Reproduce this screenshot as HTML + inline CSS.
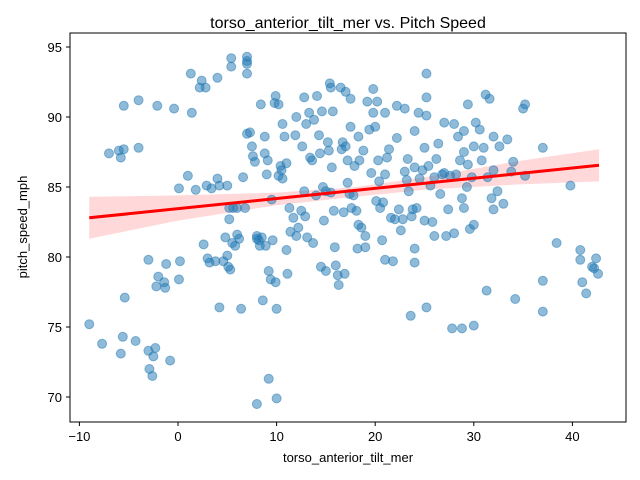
<!DOCTYPE html>
<html><head><meta charset="utf-8"><style>
body{margin:0;background:#fff;}
svg{display:block;font-family:"Liberation Sans","DejaVu Sans",sans-serif;}
</style></head><body>
<svg id="chart" width="640" height="480">
<rect width="640" height="480" fill="#fff"/>
<text x="348" y="28" text-anchor="middle" font-size="16">torso_anterior_tilt_mer vs. Pitch Speed</text>
<g id="ci"></g>
<g id="pts"></g>
<g id="reg"></g>
<rect x="70" y="33" width="556" height="389" fill="none" stroke="#000" stroke-width="1"/>
<g id="xt"></g>
<g id="yt"></g>
<text x="348" y="462" text-anchor="middle" font-size="13">torso_anterior_tilt_mer</text>
<text transform="translate(27,227) rotate(-90)" text-anchor="middle" font-size="13">pitch_speed_mph</text>
</svg>
<script>
const xTicks=[-10,0,10,20,30,40];
const yTicks=[70,75,80,85,90,95];
const regX=[-9,42.7];
const regY=[82.8,86.55];
const ciX=[-9,0,10,18,25,35,42.7];
const ciLow=[81.3,82.6,83.7,84.3,84.8,85.2,85.4];
const ciHigh=[84.3,84.4,84.6,85.0,85.7,86.9,87.7];
const px=[-9,-7.7,-7,-6,-5.8,-5.5,-5.5,-5.4,-5.6,-5.8,-4.3,-4,-4,-3,-3,-2.9,-2.6,-2.5,-2.3,-2.1,-2,-2.2,-1.4,-1.3,-1.2,-0.8,-0.4,0.1,0.1,0.2,1,1.3,1.4,1.8,2.2,2.4,2.6,2.8,2.9,3,3.2,3.4,3.8,4,4,4.2,4.2,4.6,4.8,5,5,5.1,5.2,5.2,5.4,5.4,5.6,5.3,5.5,5.8,6,6,6.2,6.4,6.6,6.8,7,7,7,7,7,7.3,7.5,7.6,7.8,8,8,8.2,8.3,8.4,8.5,8.6,8,8.8,8.8,8.9,9,9.1,9.2,9.2,9.4,9.5,9.6,9.8,9.9,9.9,10,10,10.2,10.2,10.4,10.5,10.6,10.6,10.8,11,11,11.1,11.3,11.4,11.7,11.9,12,12,12.2,12.5,12.6,12.8,12.8,12.9,13,13.1,13.3,13.4,13.6,13.7,13.8,14,14.1,14.3,14.4,14.5,14.6,14.7,14.8,15,15,15.2,15.3,15.4,15.5,15.5,15.6,15.7,15.8,15.9,16,16.2,16.3,16.5,16.6,16.7,16.8,16.9,17,17,17.2,17.2,17.4,17.5,17.5,17.6,17.8,17.9,18.1,18.2,18.3,18.3,18.4,18.6,18.8,19,19,19.2,19.4,19.6,19.8,19.8,20,20.1,20.2,20.3,20.4,20.5,20.7,20.8,21,21,21,21.2,21.4,21.6,21.8,22,22.2,22.2,22.4,22.6,22.8,23,23,23.2,23.3,23.4,23.6,23.7,23.8,24,24,24,24,24.2,24.4,24.5,24.8,25,25,25.2,25.2,25.2,25.2,25.4,25.6,25.8,26,26,26.2,26.4,26.6,26.8,27,27,27.2,27.4,27.6,27.8,28,28,28.2,28.4,28.6,28.8,28.8,29,29,29,29.3,29.4,29.4,29.6,29.8,30,30,30,30.2,30.6,30.8,31,31.2,31.3,31.4,31.6,31.8,32,32,32,32.4,32.6,33,33.4,33.8,34,34.2,35,35.2,35.2,37,37,37,38.4,39.8,40.8,40.8,41,41.4,42,42.4,42.6,42.2];
const py=[75.2,73.8,87.4,87.6,87.1,90.8,87.7,77.1,74.3,73.1,74,91.2,87.8,79.8,73.3,72,71.5,72.9,73.5,90.8,78.6,77.9,78.2,77.8,79.5,72.6,90.6,84.9,78.4,79.7,85.8,93.1,90.3,84.8,92.1,92.6,80.9,92.1,85.1,79.9,79.6,84.9,79.7,85.6,92.8,85.1,76.4,79.7,81.4,80.1,85.1,79.3,83.5,82.7,94.2,93.6,83.5,79.1,81,80.8,83.5,81.6,81.3,76.3,85.7,83.5,93.8,94.3,94,93.1,88.8,88.9,87.9,87.2,86.8,81.5,81.3,81.2,80.8,90.9,81.4,76.9,69.5,87.4,88.6,80.8,85.9,86.9,71.3,79,78.4,84.1,81.2,91,91.5,78.2,69.9,76.3,90.9,85.8,86.5,86.2,85.6,89.5,88.6,86.7,80.5,78.8,83.5,81.8,82.8,88.7,81.5,90,82.1,83.3,87.9,84.7,91.4,82.9,89.5,81.4,90.3,87.1,86.9,81,89.8,84.4,91.5,88.7,87.4,79.3,90.4,85,82.6,84.7,79,88.2,87.6,92.4,92.1,84.6,86.4,90.4,83.3,80.7,79.4,78.7,78,92.1,87.7,88.2,83.2,78.8,91.8,87.9,86.9,85.3,84.5,91.3,89.3,83.5,84.4,86.5,83.3,80.6,82.3,88.6,86.9,82.1,87.6,81.5,80.7,91.1,89.1,86,92,90.3,89.3,84,91.1,86.9,85.4,83.5,81.2,83.9,79.8,90.3,85.9,87.1,87.7,82.8,79.7,82.7,90.8,88.5,83.4,81.9,82.7,86.1,90.6,85.5,87,84.7,75.8,82.9,83.4,89,86.4,80.6,79.6,83.5,90.3,85.6,86.2,87.8,82.6,91.4,93.1,90.1,76.4,86.5,85.1,82.5,85.7,81.5,87,88.1,84.5,85.9,89.6,86,81.5,83.4,85.8,74.9,89.5,81.7,85.9,88.6,86.9,74.9,84.2,87.5,89,83.5,85,86.6,90.9,82,85.7,82.3,75.1,87.9,89.6,89.1,86.9,87.8,91.6,77.6,85.7,91.3,84.2,86.2,88.6,83.4,84.7,87.9,83.8,88.4,86.1,86.8,77,90.6,90.9,85.8,87.8,78.3,76.1,81,85.1,80.5,79.8,78.2,77.4,79.3,79.9,78.8,79.2];
const NS="http://www.w3.org/2000/svg";
const X=v=>178+(v)*9.86, Y=v=>187-(v-85)*14;
function mk(t,a,p){const e=document.createElementNS(NS,t);for(const k in a)e.setAttribute(k,a[k]);p.appendChild(e);return e;}
// CI band
let d="M"+ciX.map((x,i)=>X(x)+","+Y(ciHigh[i])).join(" L");
for(let i=ciX.length-1;i>=0;i--)d+=" L"+X(ciX[i])+","+Y(ciLow[i]);
const band=mk("path",{d:d+"Z",fill:"#ff0000","fill-opacity":"0.15",stroke:"none"},document.getElementById("ci"));


// points
const pg=document.getElementById("pts");
for(let i=0;i<px.length;i++){
 const c=mk("circle",{cx:X(px[i]),cy:Y(py[i]),r:4.5,fill:"#1f77b4","fill-opacity":"0.5",stroke:"#1f77b4","stroke-opacity":"0.5","stroke-width":"1"},pg);
 
 
}
const ln=mk("line",{x1:X(regX[0]),y1:Y(regY[0]),x2:X(regX[1]),y2:Y(regY[1]),stroke:"#ff0000","stroke-width":"3"},document.getElementById("reg"));


const xg=document.getElementById("xt");
xTicks.forEach(v=>{
 const t=mk("line",{x1:X(v),x2:X(v),y1:422,y2:426,stroke:"#000"},xg);
 
 
 const l=mk("text",{x:X(v),y:441,"text-anchor":"middle","font-size":"13"},xg);l.textContent=v<0?"\u2212"+(-v):v;
 
 
});
const yg=document.getElementById("yt");
yTicks.forEach(v=>{
 const t=mk("line",{x1:66,x2:70,y1:Y(v),y2:Y(v),stroke:"#000"},yg);
 
 
 const l=mk("text",{x:62,y:Y(v)+5,"text-anchor":"end","font-size":"13"},yg);l.textContent=v;
 
 
});
</script>
</body></html>
